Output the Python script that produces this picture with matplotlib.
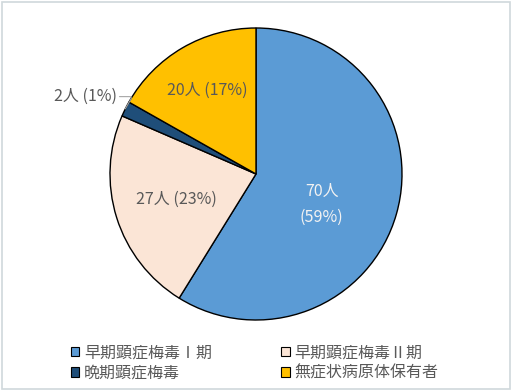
import numpy as np
import matplotlib
matplotlib.use('Agg')
import matplotlib.pyplot as plt
from matplotlib.patches import Patch, Rectangle

plt.rcParams['font.family'] = ['Noto Sans CJK JP', 'DejaVu Sans']

categories = ['早期顕症梅毒Ⅰ期', '早期顕症梅毒Ⅱ期', '晩期顕症梅毒', '無症状病原体保有者']
counts = [70, 27, 2, 20]
percents = [59, 23, 1, 17]
colors = ['#5B9BD5', '#FBE5D6', '#1F4E79', '#FFC000']

fig = plt.figure(figsize=(5.12, 3.91), dpi=100)
fig.patches.append(Rectangle((0.004, 0.004), 0.992, 0.992, transform=fig.transFigure,
                             fill=False, edgecolor='#d0d8dc', linewidth=1.2))

# pie area: center (256,174) px, radius 146 px
W, H = 512, 391
cx, cy, r = 256, 174, 146
ax = fig.add_axes([(cx - r) / W, (H - cy - r) / H, 2 * r / W, 2 * r / H])
wedges, _ = ax.pie(counts, colors=colors, startangle=90, counterclock=False,
                   wedgeprops=dict(edgecolor='black', linewidth=1.0))
ax.set_xlim(-1, 1)
ax.set_ylim(-1, 1)
ax.set_aspect('auto')
ax.axis('off')

def mid(w):
    return np.deg2rad((w.theta1 + w.theta2) / 2)

# label radii per slice
lab_r = [0.52, 0.57, None, 0.66]
txt_col = ['#f2f2f2', '#595959', '#595959', '#595959']
for i, w in enumerate(wedges):
    a = mid(w)
    if i == 2:
        continue
    x, y = lab_r[i] * np.cos(a), lab_r[i] * np.sin(a)
    if i == 0:
        s = f'{counts[i]}人\n({percents[i]}%)'
        x, y = 0.45, -0.21
    else:
        s = f'{counts[i]}人 ({percents[i]}%)'
    ax.text(x, y, s, ha='center', va='center', fontsize=11.5, color=txt_col[i],
            linespacing=1.7)

# small slice label with leader line
a = mid(wedges[2])
ex, ey = np.cos(a), np.sin(a)
ax.annotate(f'{counts[2]}人 ({percents[2]}%)', xy=(ex, ey), xytext=(-1.17, 0.53),
            ha='center', va='center', fontsize=11.5, color='#595959',
            arrowprops=dict(arrowstyle='-', color='#a6a6a6', lw=0.8,
                            connectionstyle='angle,angleA=0,angleB=60,rad=3',
                            shrinkA=16, shrinkB=0))

# legend filled row by row
order = [0, 2, 1, 3]
handles = [Patch(facecolor=colors[i], edgecolor='black', linewidth=0.8) for i in order]
labels = [categories[i] for i in order]
leg = fig.legend(handles, labels, loc='center', bbox_to_anchor=(0.497, 1 - 363 / H),
                 ncol=2, frameon=False, fontsize=11.5, handlelength=0.55, handleheight=0.55,
                 handletextpad=0.3, columnspacing=4.3, labelspacing=0.22)
for t in leg.get_texts():
    t.set_color('#595959')

fig.savefig('out.png', dpi=100)
